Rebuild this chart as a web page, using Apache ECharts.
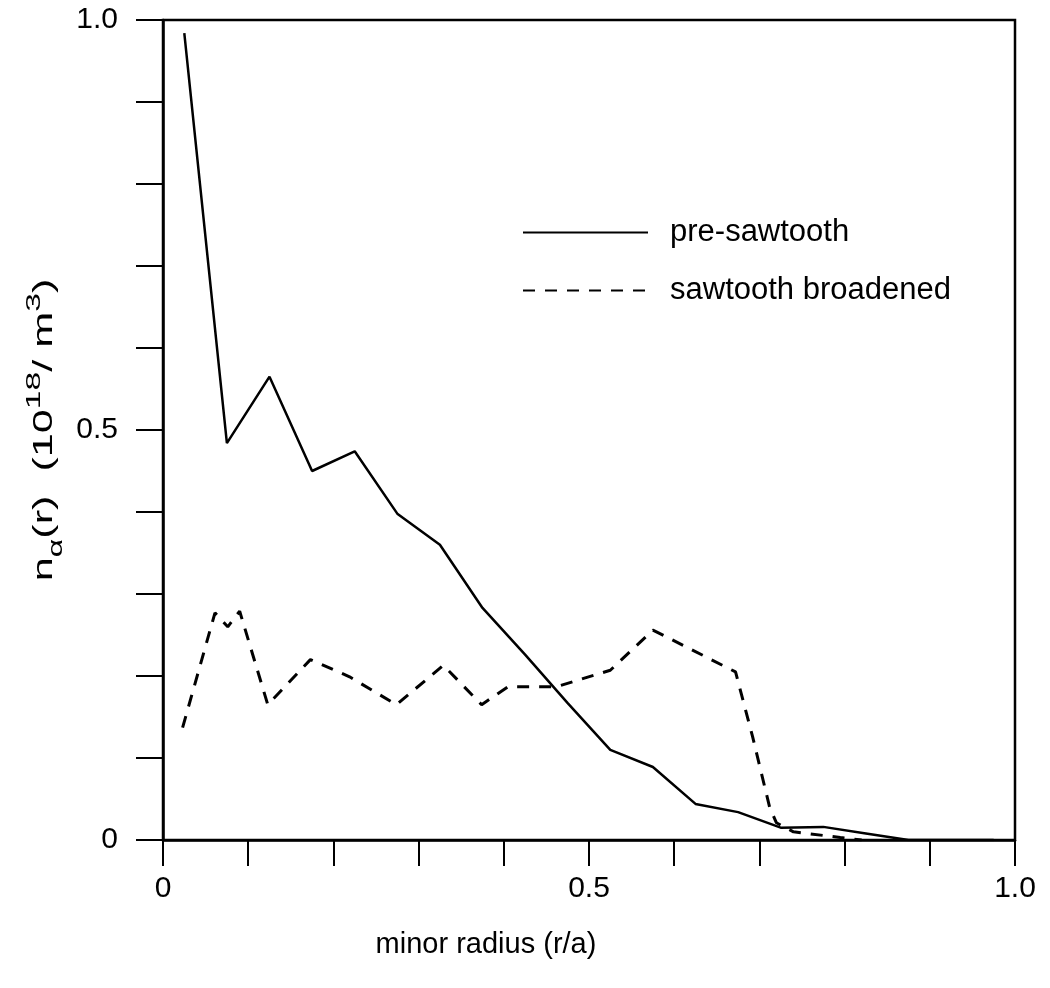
<!DOCTYPE html>
<html>
<head>
<meta charset="utf-8">
<script src="https://cdn.jsdelivr.net/npm/echarts@6/dist/echarts.min.js"></script>
<style>
  html, body { margin: 0; padding: 0; background: #fff; }
  #chart { width: 1050px; height: 988px; }
</style>
</head>
<body>
<div id="chart"></div>
<script>
// pre-sawtooth profile (solid)
const preR = [0.025, 0.075, 0.125, 0.175, 0.225, 0.275, 0.325, 0.375, 0.425, 0.475,
  0.525, 0.575, 0.625, 0.675, 0.725, 0.775, 0.825, 0.875, 0.925, 0.975]
const preN = [0.984, 0.484, 0.565, 0.45, 0.474, 0.398, 0.36, 0.283, 0.226, 0.167,
  0.110, 0.089, 0.044, 0.034, 0.015, 0.016, 0.008, 0.0, 0.0, 0.0]

// sawtooth broadened profile (dashed)
const sawR = [0.023, 0.061, 0.076, 0.09, 0.123, 0.173, 0.219, 0.274, 0.329, 0.374,
  0.405, 0.462, 0.525, 0.575, 0.672, 0.692, 0.712, 0.72, 0.74, 0.795, 0.82]
const sawN = [0.137, 0.277, 0.26, 0.279, 0.165, 0.22, 0.199, 0.165, 0.213, 0.165,
  0.187, 0.187, 0.207, 0.256, 0.205, 0.126, 0.04, 0.021, 0.01, 0.003, 0.0]

const xTickLabels = { 0: '0', 0.5: '0.5', 1: '1.0' }
const yTickLabels = { 0: '0', 0.5: '0.5', 1: '1.0' }

const font = '"Liberation Sans", Arial, Helvetica, sans-serif'

const pair = (xs, ys) => xs.map((x, i) => [x, ys[i]])

const labelFor = (map) => (v) => {
  const key = Math.round(v * 10) / 10
  return map[key] !== undefined ? map[key] : ''
}

const chart = echarts.init(document.getElementById('chart'))

chart.setOption({
  backgroundColor: '#fff',
  animation: false,
  grid: {
    left: 163,
    right: 35,
    top: 20,
    bottom: 148,
    show: true,
    borderColor: '#000',
    borderWidth: 2.5
  },
  legend: {
    orient: 'vertical',
    left: 517,
    top: 212,
    itemWidth: 125,
    itemHeight: 31,
    itemGap: 27,
    itemStyle: { opacity: 0 },
    textStyle: {
      fontFamily: font,
      fontSize: 31,
      lineHeight: 31,
      color: '#000',
      padding: [0, 0, 0, 17]
    },
    data: ['pre-sawtooth', 'sawtooth broadened']
  },
  // y axis title, stretched along its length like the scanned original
  graphic: [
    {
      type: 'text',
      x: 45,
      y: 430,
      rotation: Math.PI / 2,
      scaleX: 1.6,
      style: {
        text: '{n|n}{sub|α}{n|(r)  (10}{sup|18}{n|/ m}{sup|3}{n|)}',
        align: 'center',
        verticalAlign: 'middle',
        fill: '#000',
        rich: {
          n: { fontFamily: font, fontSize: 27, fill: '#000', lineHeight: 42, verticalAlign: 'middle' },
          sub: { fontFamily: font, fontSize: 20, fill: '#000', lineHeight: 20, verticalAlign: 'bottom' },
          sup: { fontFamily: font, fontSize: 21, fill: '#000', lineHeight: 21, verticalAlign: 'top' }
        }
      }
    }
  ],
  xAxis: {
    type: 'value',
    min: 0,
    max: 1,
    interval: 0.1,
    splitLine: { show: false },
    axisLine: { lineStyle: { color: '#000', width: 2.5 } },
    axisTick: { inside: false, length: 26, lineStyle: { color: '#000', width: 2 } },
    axisLabel: {
      margin: 34,
      fontFamily: font,
      fontSize: 30,
      color: '#000',
      showMinLabel: true,
      showMaxLabel: true,
      formatter: labelFor(xTickLabels)
    },
    name: 'minor radius (r/a)',
    nameLocation: 'middle',
    nameGap: 90,
    nameTextStyle: { fontFamily: font, fontSize: 29, color: '#000', padding: [0, 206, 0, 0] }
  },
  yAxis: {
    type: 'value',
    min: 0,
    max: 1,
    interval: 0.1,
    splitLine: { show: false },
    axisLine: { lineStyle: { color: '#000', width: 2.5 } },
    axisTick: { inside: false, length: 27, lineStyle: { color: '#000', width: 2 } },
    axisLabel: {
      margin: 45,
      fontFamily: font,
      fontSize: 30,
      color: '#000',
      showMinLabel: true,
      showMaxLabel: true,
      formatter: labelFor(yTickLabels)
    }
  },
  series: [
    {
      name: 'pre-sawtooth',
      type: 'line',
      data: pair(preR, preN),
      symbol: 'none',
      lineStyle: { color: '#000', width: 2.5 },
      itemStyle: { color: '#000' }
    },
    {
      name: 'sawtooth broadened',
      type: 'line',
      data: pair(sawR, sawN),
      symbol: 'none',
      lineStyle: { color: '#000', width: 3, type: [12, 10] },
      itemStyle: { color: '#000' }
    }
  ]
})
</script>
</body>
</html>
